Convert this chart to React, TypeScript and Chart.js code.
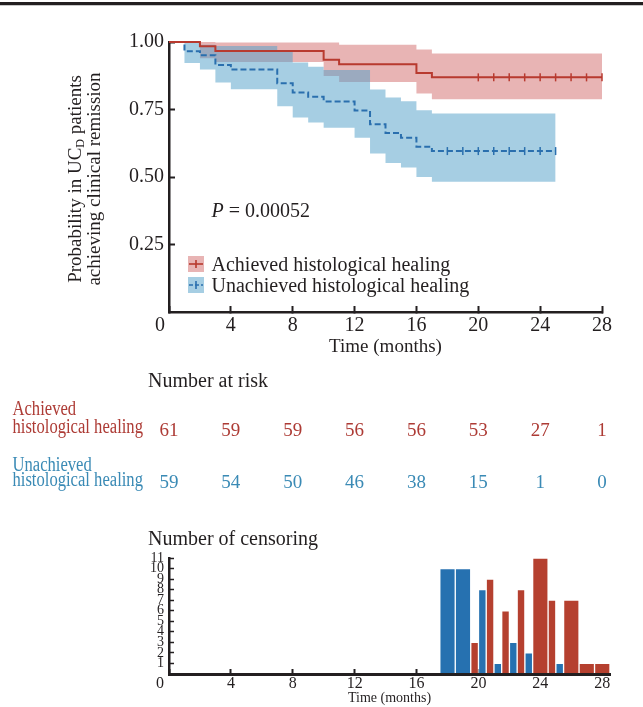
import React, { useEffect, useRef } from 'react';
import { Chart, registerables } from 'chart.js';

Chart.register(...registerables);

const SERIF = '"Liberation Serif", "Times New Roman", Times, serif';
const INK = '#231f20';
const RED = '#b83a2f';
const BLUE = '#2a6fae';
const RED_BAND = 'rgba(189, 41, 41, 0.35)';
const BLUE_BAND = 'rgba(84, 161, 201, 0.52)';
const RED_TEXT = '#ad3b35';
const BLUE_TEXT = '#3a8ab5';
const BAR_RED = '#b5402f';
const BAR_BLUE = '#2671b0';

// ---- Kaplan-Meier data (months, survival probability) ----
const monthTicks = [0, 4, 8, 12, 16, 20, 24, 28];
const probTicks = [0.25, 0.5, 0.75, 1.0];

const achievedTimes = [0, 2, 3, 10, 11, 16, 17, 28];
const achievedSurv = [1, 0.984, 0.967, 0.934, 0.918, 0.885, 0.869, 0.869];
const achievedUpper = [1, 1, 0.998, 0.998, 0.99, 0.972, 0.957, 0.957];
const achievedLower = [1, 0.94, 0.926, 0.874, 0.852, 0.809, 0.788, 0.788];
const achievedCensorTimes = [20, 21, 22, 23, 24, 25, 26, 27, 28];

const unachievedTimes = [0, 1, 2, 3, 4, 7, 8, 9, 10, 12, 13, 14, 15, 16, 17, 25];
const unachievedSurv = [1, 0.966, 0.951, 0.915, 0.898, 0.847, 0.813, 0.797, 0.78, 0.746, 0.695, 0.663, 0.645, 0.612, 0.596, 0.596];
const unachievedUpper = [1, 1, 0.99, 0.985, 0.985, 0.97, 0.924, 0.908, 0.896, 0.896, 0.824, 0.794, 0.781, 0.747, 0.735, 0.735];
const unachievedLower = [1, 0.922, 0.898, 0.85, 0.825, 0.762, 0.72, 0.702, 0.682, 0.645, 0.587, 0.552, 0.535, 0.5, 0.482, 0.482];
const unachievedCensorTimes = [18, 19, 20, 21, 22, 23, 24, 25];

const seriesLabels = ['Achieved histological healing', 'Unachieved histological healing'];
const pValueText = '0.00052';

// ---- Number at risk ----
const riskTimes = [0, 4, 8, 12, 16, 20, 24, 28];
const riskAchieved = [61, 59, 59, 56, 56, 53, 27, 1];
const riskUnachieved = [59, 54, 50, 46, 38, 15, 1, 0];

// ---- Number of censoring ----
const censorMonths = [18, 19, 20, 21, 22, 23, 24, 25, 26, 27, 28];
const censorAchieved = [0, 0, 3, 9, 6, 8, 11, 7, 7, 1, 1];
const censorUnachieved = [10, 10, 8, 1, 3, 2, 0, 1, 0, 0, 0];
const censorCountTicks = [1, 2, 3, 4, 5, 6, 7, 8, 9, 10, 11];

function stepValueAt(times: number[], values: number[], t: number) {
  let v = values[0];
  for (let i = 0; i < times.length; i++) if (times[i] <= t) v = values[i];
  return v;
}
const pts = (xs: number[], ys: number[]) => xs.map((x, i) => ({ x, y: ys[i] }));

function drawCondensed(ctx: CanvasRenderingContext2D, text: string, x: number, y: number, sx: number) {
  ctx.save();
  ctx.translate(x, y);
  ctx.scale(sx, 1);
  ctx.fillText(text, 0, 0);
  ctx.restore();
}

const topDecor = {
  id: 'topDecor',
  afterDraw(chart: any) {
    const ctx: CanvasRenderingContext2D = chart.ctx;
    const xs = chart.scales.x;
    const area = chart.chartArea;
    ctx.save();
    ctx.fillStyle = INK;
    ctx.textBaseline = 'alphabetic';

    // corner "0"
    ctx.font = `20px ${SERIF}`;
    ctx.textAlign = 'center';
    ctx.fillText('0', xs.getPixelForValue(0) - 9, area.bottom + 19);

    // y-axis title with subscript
    const cy = (area.top + area.bottom) / 2 + 2;
    ctx.save();
    ctx.translate(0, cy);
    ctx.rotate(-Math.PI / 2);
    ctx.textAlign = 'left';
    const big = `19px ${SERIF}`;
    const small = `12px ${SERIF}`;
    const parts = [
      { t: 'Probability in UC', f: big, dy: 0 },
      { t: 'D', f: small, dy: 3 },
      { t: ' patients', f: big, dy: 0 },
    ];
    let total = 0;
    parts.forEach((p) => { ctx.font = p.f; total += ctx.measureText(p.t).width; });
    let u = -total / 2;
    parts.forEach((p) => {
      ctx.font = p.f;
      ctx.fillText(p.t, u, 81 + p.dy);
      u += ctx.measureText(p.t).width;
    });
    ctx.font = big;
    ctx.textAlign = 'center';
    ctx.fillText('achieving clinical remission', 0, 99.5);
    ctx.restore();

    // P value
    ctx.textAlign = 'left';
    ctx.font = `italic 20px ${SERIF}`;
    const px = 211.5;
    ctx.fillText('P', px, 217);
    const pw = ctx.measureText('P').width;
    ctx.font = `20px ${SERIF}`;
    ctx.fillText(' = ' + pValueText, px + pw, 217);

    // legend
    const legend = [
      { label: seriesLabels[0], band: RED_BAND, line: RED, dash: [] as number[], base: 271 },
      { label: seriesLabels[1], band: BLUE_BAND, line: BLUE, dash: [4, 2], base: 292 },
    ];
    legend.forEach((it) => {
      const bx = 188, by = it.base - 15, bs = 16;
      ctx.fillStyle = it.band;
      ctx.fillRect(bx, by, bs, bs);
      ctx.strokeStyle = it.line;
      ctx.lineWidth = 1.6;
      ctx.setLineDash(it.dash);
      ctx.beginPath();
      ctx.moveTo(bx + 1, by + bs / 2);
      ctx.lineTo(bx + bs - 1, by + bs / 2);
      ctx.stroke();
      ctx.setLineDash([]);
      ctx.beginPath();
      ctx.moveTo(bx + bs / 2, by + bs / 2 - 4);
      ctx.lineTo(bx + bs / 2, by + bs / 2 + 4);
      ctx.stroke();
      ctx.fillStyle = INK;
      ctx.font = `20px ${SERIF}`;
      ctx.fillText(it.label, 211.5, it.base);
    });

    // Number at risk table
    ctx.fillStyle = INK;
    ctx.font = `20px ${SERIF}`;
    ctx.textAlign = 'left';
    ctx.fillText('Number at risk', 148, 387);

    const rows = [
      { lines: ['Achieved', 'histological healing'], color: RED_TEXT, bases: [415, 433], vals: riskAchieved, vbase: 435.5 },
      { lines: ['Unachieved', 'histological healing'], color: BLUE_TEXT, bases: [470.5, 485.5], vals: riskUnachieved, vbase: 488.3 },
    ];
    rows.forEach((r) => {
      ctx.fillStyle = r.color;
      ctx.font = `20px ${SERIF}`;
      ctx.textAlign = 'left';
      r.lines.forEach((ln, i) => drawCondensed(ctx, ln, 12.5, r.bases[i], 0.83));
      ctx.font = `19px ${SERIF}`;
      ctx.textAlign = 'center';
      r.vals.forEach((v, i) => ctx.fillText(String(v), xs.getPixelForValue(riskTimes[i]), r.vbase));
    });
    ctx.restore();
  },
};

const bottomDecor = {
  id: 'bottomDecor',
  afterDraw(chart: any) {
    const ctx: CanvasRenderingContext2D = chart.ctx;
    const xs = chart.scales.x;
    ctx.save();
    ctx.fillStyle = INK;
    ctx.textBaseline = 'alphabetic';
    ctx.textAlign = 'left';
    ctx.font = `20px ${SERIF}`;
    ctx.fillText('Number of censoring', 148, 25);
    ctx.textAlign = 'center';
    ctx.font = `16px ${SERIF}`;
    ctx.fillText('0', xs.getPixelForValue(0) - 9, chart.chartArea.bottom + 14);
    ctx.restore();
  },
};

function makeTopConfig(): any {
  const line = (data: any[], color: string, dash: number[], label: string) => ({
    label, data, borderColor: color, borderWidth: 2, borderDash: dash, stepped: true,
    pointRadius: 0, fill: false, clip: false,
  });
  const censor = (times: number[], st: number[], sv: number[], color: string) => ({
    label: 'censored',
    data: times.map((t) => ({ x: t, y: stepValueAt(st, sv, t) })),
    showLine: false, pointStyle: 'line', pointRotation: 90, pointRadius: 4,
    pointBorderColor: color, pointBackgroundColor: color, pointBorderWidth: 1.5, clip: false,
  });
  const band = (data: any[], fill: any, color: string) => ({
    label: 'ci', data, borderColor: 'transparent', borderWidth: 0, stepped: true,
    pointRadius: 0, fill, backgroundColor: color,
  });
  return {
    type: 'line',
    data: {
      datasets: [
        line(pts(achievedTimes, achievedSurv), RED, [], seriesLabels[0]),
        line(pts(unachievedTimes, unachievedSurv), BLUE, [6, 3], seriesLabels[1]),
        censor(achievedCensorTimes, achievedTimes, achievedSurv, RED),
        censor(unachievedCensorTimes, unachievedTimes, unachievedSurv, BLUE),
        band(pts(unachievedTimes, unachievedUpper), '+1', BLUE_BAND),
        band(pts(unachievedTimes, unachievedLower), false, BLUE_BAND),
        band(pts(achievedTimes, achievedUpper), '+1', RED_BAND),
        band(pts(achievedTimes, achievedLower), false, RED_BAND),
      ],
    },
    options: {
      responsive: false,
      animation: false,
      events: [],
      layout: { padding: { left: 0, top: 42, right: 41, bottom: 138 } },
      plugins: { legend: { display: false }, tooltip: { enabled: false }, title: { display: false } },
      scales: {
        x: {
          type: 'linear', min: 0, max: 28, offset: false,
          afterBuildTicks: (s: any) => { s.ticks = monthTicks.map((v) => ({ value: v })); },
          afterFit: (s: any) => { s.height = 50; },
          grid: { display: true, offset: false, drawOnChartArea: false, drawTicks: true, tickLength: -6, tickColor: INK, tickWidth: 2 },
          border: { display: true, color: INK, width: 2.5 },
          ticks: {
            font: { family: SERIF, size: 20 }, color: INK, padding: 8, maxRotation: 0, autoSkip: false,
            callback: (v: any) => (Number(v) === 0 ? '' : String(v)),
          },
          title: { display: true, text: 'Time (months)', font: { family: SERIF, size: 19 }, color: INK, padding: { top: 0, bottom: 4 } },
        },
        y: {
          type: 'linear', min: 0, max: 1,
          afterBuildTicks: (s: any) => { s.ticks = probTicks.map((v) => ({ value: v })); },
          afterFit: (s: any) => { s.width = 169; },
          grid: { display: true, drawOnChartArea: false, drawTicks: true, tickLength: -6, tickColor: INK, tickWidth: 2 },
          border: { display: true, color: INK, width: 2.5 },
          ticks: {
            font: { family: SERIF, size: 20 }, color: INK, padding: 11, autoSkip: false,
            callback: (v: any) => Number(v).toFixed(2),
          },
        },
      },
    },
    plugins: [topDecor],
  };
}

function makeBottomConfig(): any {
  const halfRed: any[] = [], halfBlue: any[] = [], fullRed: any[] = [], fullBlue: any[] = [];
  censorMonths.forEach((m, i) => {
    const a = censorAchieved[i], u = censorUnachieved[i];
    if (a > 0 && u > 0) {
      halfRed.push({ x: m - 0.25, y: a });
      halfBlue.push({ x: m + 0.25, y: u });
    } else {
      if (a > 0) fullRed.push({ x: m, y: a });
      if (u > 0) fullBlue.push({ x: m, y: u });
    }
  });
  const bar = (data: any[], color: string, axis: string, label: string) => ({
    label, data, xAxisID: axis, backgroundColor: color, borderColor: 'rgba(255,255,255,0.55)', borderWidth: 1,
    grouped: false, barPercentage: 1, categoryPercentage: 1,
  });
  return {
    type: 'bar',
    data: {
      datasets: [
        bar(halfBlue, BAR_BLUE, 'x', seriesLabels[1]),
        bar(halfRed, BAR_RED, 'x', seriesLabels[0]),
        bar(fullBlue, BAR_BLUE, 'x2', seriesLabels[1]),
        bar(fullRed, BAR_RED, 'x2', seriesLabels[0]),
      ],
    },
    options: {
      responsive: false,
      animation: false,
      events: [],
      layout: { padding: { left: 0, top: 38, right: 33, bottom: 0 } },
      plugins: { legend: { display: false }, tooltip: { enabled: false } },
      scales: {
        x: {
          type: 'linear', min: 0, max: 28.5, offset: false, position: 'bottom',
          afterBuildTicks: (s: any) => { s.ticks = monthTicks.map((v) => ({ value: v })); },
          afterFit: (s: any) => { s.height = 33; },
          grid: { display: true, offset: false, drawOnChartArea: false, drawTicks: true, tickLength: -5, tickColor: INK, tickWidth: 2 },
          border: { display: true, color: INK, width: 3, z: 1 },
          ticks: {
            font: { family: SERIF, size: 16 }, color: INK, padding: 5, maxRotation: 0, autoSkip: false,
            callback: (v: any) => (Number(v) === 0 ? '' : String(v)),
          },
          title: { display: true, text: 'Time (months)', font: { family: SERIF, size: 14 }, color: INK, padding: { top: 0, bottom: 0 } },
        },
        x2: {
          type: 'linear', min: 0, max: 28.5, offset: false, position: 'bottom', display: false,
          afterBuildTicks: (s: any) => { s.ticks = monthTicks.map((v) => ({ value: v })); },
          grid: { offset: false },
        },
        y: {
          type: 'linear', min: 0, max: 11,
          afterBuildTicks: (s: any) => { s.ticks = censorCountTicks.map((v) => ({ value: v })); },
          afterFit: (s: any) => { s.width = 169; },
          grid: { display: true, drawOnChartArea: false, drawTicks: true, tickLength: -5, tickColor: INK, tickWidth: 1.5 },
          border: { display: true, color: INK, width: 2.5 },
          ticks: { font: { family: SERIF, size: 14 }, color: INK, padding: 10, autoSkip: false },
        },
      },
    },
    plugins: [bottomDecor],
  };
}

export default function App() {
  const topRef = useRef<HTMLCanvasElement>(null);
  const botRef = useRef<HTMLCanvasElement>(null);
  useEffect(() => {
    const c1 = new Chart(topRef.current as HTMLCanvasElement, makeTopConfig());
    const c2 = new Chart(botRef.current as HTMLCanvasElement, makeBottomConfig());
    return () => {
      c1.destroy();
      c2.destroy();
    };
  }, []);
  return (
    <div style={{ position: 'absolute', left: 0, top: 0, width: 643, height: 707, background: '#fff', overflow: 'hidden' }}>
      <div style={{ position: 'absolute', left: 0, top: 2, width: 643, height: 2.5, background: INK }} />
      <div style={{ position: 'absolute', left: 0, top: 4.5, width: 643, height: 1, background: '#c8c8c8' }} />
      <canvas ref={topRef} width={643} height={500} style={{ position: 'absolute', left: 0, top: 0, display: 'block', width: 643, height: 500 }} />
      <canvas ref={botRef} width={643} height={187} style={{ position: 'absolute', left: 0, top: 520, display: 'block', width: 643, height: 187 }} />
    </div>
  );
}
